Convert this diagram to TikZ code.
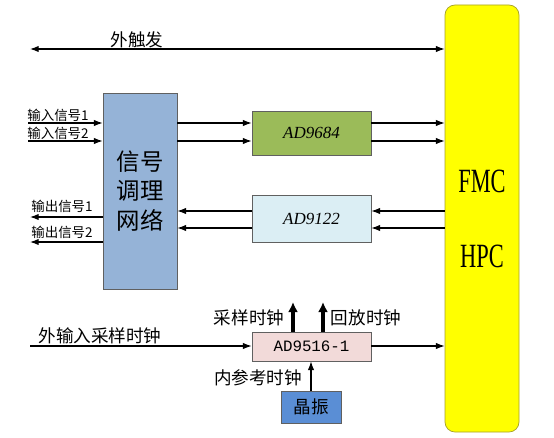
\documentclass[tikz,border=0pt]{standalone}
\usepackage{fontspec}
\setmainfont{Liberation Serif}
\setmonofont{Liberation Mono}
\newfontfamily\cjk{Noto Sans CJK SC}
\usetikzlibrary{arrows.meta,positioning}
\definecolor{ccond}{RGB}{149,179,215}
\definecolor{cadc}{RGB}{155,187,89}
\definecolor{cdac}{RGB}{219,238,244}
\definecolor{cclk}{RGB}{242,218,217}
\definecolor{cxtal}{RGB}{90,142,213}
\definecolor{cfmc}{RGB}{255,255,0}
\definecolor{cfmcb}{RGB}{165,160,40}
\tikzset{
  blk/.style={rectangle,draw=gray!75!black,line width=0.6pt,inner sep=0pt,align=center},
  chip/.style={blk,minimum width=3.57cm,font=\fontsize{14.5}{16}\selectfont\itshape},
  lab/.style={font=\cjk\fontsize{15}{17}\selectfont,inner sep=0pt},
  sig/.style={font=\cjk\fontsize{11.5}{13}\selectfont,inner sep=0pt},
  arr/.style={-{Latex[length=2.6mm,width=1.9mm]},line width=0.9pt},
  darr/.style={{Latex[length=2.6mm,width=1.9mm]}-{Latex[length=2.6mm,width=1.9mm]},line width=0.9pt},
  uparr/.style={-{Latex[length=3mm,width=3mm]},line width=2.6pt}
}

\begin{document}
\begin{tikzpicture}[x=0.03cm,y=-0.03cm]
  \useasboundingbox (0,0) rectangle (554,437);
  % blocks
  \node[blk,fill=cfmc,draw=cfmcb,rounded corners=0.3cm,minimum width=2.22cm,minimum height=12.81cm,
    font=\fontsize{29}{64}\selectfont] (fmc) at (482,218.5) {\scalebox{0.66}[1]{FMC}\\\scalebox{0.66}[1]{HPC}};
  \node[blk,fill=ccond,minimum width=2.22cm,minimum height=5.88cm,
    font=\cjk\fontsize{20}{25}\selectfont] (cond) at (140,191) {信号\\调理\\网络};
  \node[chip,fill=cadc,minimum height=1.32cm] (adc) at (311.5,133) {AD9684};
  \node[chip,fill=cdac,minimum height=1.41cm] (dac) at (311.5,218.5) {AD9122};
  \node[blk,fill=cclk,minimum width=3.57cm,minimum height=0.87cm,
    font=\ttfamily\fontsize{13.5}{15}\selectfont] (clk) at (311.5,346.5) {AD9516-1};
  \node[blk,fill=cxtal,minimum width=1.8cm,minimum height=0.96cm,
    font=\cjk\fontsize{15}{17}\selectfont] (xtal) at (311,407) {晶振};
  % rows of the connectors
  \coordinate (trg) at (30,49);
  \coordinate (in1) at (28,123);
  \coordinate (in2) at (28,141);
  \coordinate (da1) at (0,211);
  \coordinate (da2) at (0,228);
  \coordinate (out1) at (30,217);
  \coordinate (out2) at (30,242);
  \coordinate (ext) at (30,346);
  \coordinate (sclk) at (293,302);
  \coordinate (pclk) at (323,302);
  % trigger
  \draw[darr] (trg) -- (fmc.west |- trg);
  \node[lab] (trglab) at (137,40) {外触发};
  % analog inputs
  \draw[arr] (in1) -- (cond.west |- in1);
  \draw[arr] (in2) -- (cond.west |- in2);
  \node[sig] (in1lab) at (58,115) {输入信号1};
  \node[sig] (in2lab) at (58,133) {输入信号2};
  \draw[arr] (cond.east |- in1) -- (adc.west |- in1);
  \draw[arr] (cond.east |- in2) -- (adc.west |- in2);
  \draw[arr] (adc.east |- in1) -- (fmc.west |- in1);
  \draw[arr] (adc.east |- in2) -- (fmc.west |- in2);
  % analog outputs
  \draw[arr] (fmc.west |- da1) -- (dac.east |- da1);
  \draw[arr] (fmc.west |- da2) -- (dac.east |- da2);
  \draw[arr] (dac.west |- da1) -- (cond.east |- da1);
  \draw[arr] (dac.west |- da2) -- (cond.east |- da2);
  \draw[arr] (cond.west |- out1) -- (out1);
  \draw[arr] (cond.west |- out2) -- (out2);
  \node[sig] (out1lab) at (62,206) {输出信号1};
  \node[sig] (out2lab) at (62,232) {输出信号2};
  % clocks
  \draw[arr] (ext) -- (clk.west |- ext);
  \node[lab] (extlab) at (100,336) {外输入采样时钟};
  \draw[arr] (clk.east |- ext) -- (fmc.west |- ext);
  \draw[uparr] (clk.north -| sclk) -- (sclk);
  \draw[uparr] (clk.north -| pclk) -- (pclk);
  \node[lab] (sclklab) at (249,318) {采样时钟};
  \node[lab] (pclklab) at (366,318) {回放时钟};
  \draw[arr] (xtal.north) -- (clk.south -| xtal.north);
  \node[lab] (reflab) at (258,378) {内参考时钟};
\end{tikzpicture}
\end{document}
